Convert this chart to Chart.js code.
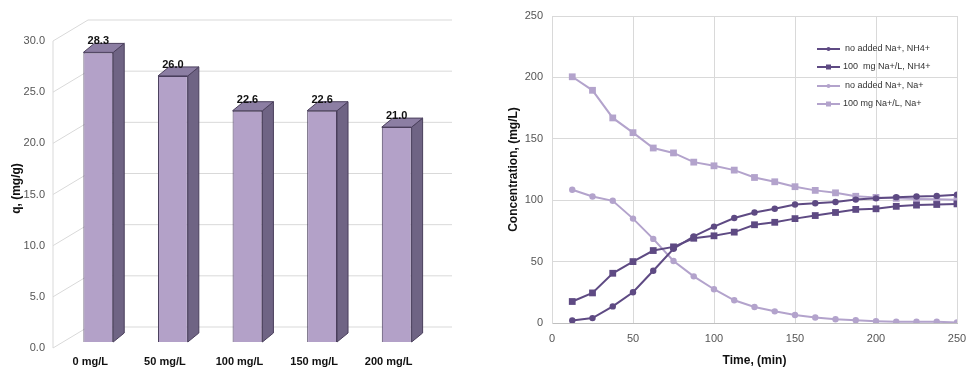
<!DOCTYPE html>
<html>
<head>
<meta charset="utf-8">
<script src="https://cdn.jsdelivr.net/npm/chart.js@4.4.1/dist/chart.umd.min.js"></script>
<style>
  html, body { margin: 0; padding: 0; background: #fff; }
  .wrap { position: relative; width: 966px; height: 369px; overflow: hidden; }
  #barchart { position: absolute; left: 0; top: 0; }
  #linechart { position: absolute; left: 490px; top: 0; }
</style>
</head>
<body>
<div class="wrap">
  <canvas id="barchart" width="480" height="369"></canvas>
  <canvas id="linechart" width="476" height="369"></canvas>
</div>
<script>
// left chart data
const doseLabels = ['0 mg/L', '50 mg/L', '100 mg/L', '150 mg/L', '200 mg/L'];
const qValues = [28.3, 26.0, 22.6, 22.6, 21.0];

// right chart data
const timeMin = [12.5, 25, 37.5, 50, 62.5, 75, 87.5, 100, 112.5, 125, 137.5, 150, 162.5, 175, 187.5, 200, 212.5, 225, 237.5, 250];
const nh4NoNa = [2, 4, 13.5, 25, 42.5, 60.5, 70.5, 78.5, 85.5, 90, 93, 96.5, 97.5, 98.5, 100.5, 101.5, 102.5, 103, 103.5, 104.5];
const nh4WithNa = [17.5, 24.5, 40.5, 50, 59, 62, 69, 71, 74, 80, 82, 85, 87.5, 90, 92.5, 93, 95, 96, 96.5, 97];
const naNoNa = [108.5, 103, 99.5, 85, 68.5, 50.5, 38, 27.5, 18.5, 13, 9.5, 6.5, 4.5, 3, 2.2, 1.5, 1, 1, 1, 0.5];
const naWithNa = [200.5, 189.5, 167, 155, 142.5, 138.5, 131, 128, 124.5, 118.5, 115, 111, 108, 106, 103.2, 102.3, 101.5, 101, 100.7, 100.3];
const seriesNames = ['no added Na+, NH4+', '100  mg Na+/L, NH4+', 'no added Na+, Na+', '100 mg Na+/L, Na+'];

const darkPurple = '#5e4a83';
const lightPurple = '#b3a3cc';
const fontFam = '"Liberation Sans", Arial, sans-serif';

// back wall + side wall grid for the 3d look
const wallPlugin = {
  id: 'wall',
  beforeDatasetsDraw(chart) {
    const ctx = chart.ctx;
    const ys = chart.scales.y;
    const L = chart.chartArea.left, R = chart.chartArea.right;
    ctx.save();
    ctx.strokeStyle = '#d9d9d9';
    ctx.lineWidth = 1;
    ys.ticks.forEach(t => {
      const yp = ys.getPixelForValue(t.value);
      ctx.beginPath();
      ctx.moveTo(L - 8, yp + 6);
      ctx.lineTo(L + 27, yp - 15);
      ctx.lineTo(R + 18, yp - 15);
      ctx.stroke();
    });
    ctx.beginPath();
    ctx.moveTo(L - 8, ys.getPixelForValue(0) + 6);
    ctx.lineTo(L - 8, ys.getPixelForValue(30) + 6);
    ctx.stroke();
    ctx.restore();
  }
};

// side and top faces, value labels
const boxPlugin = {
  id: 'box',
  afterDatasetsDraw(chart) {
    const ctx = chart.ctx;
    const meta = chart.getDatasetMeta(0);
    const dx = 11, dy = 9;
    ctx.save();
    ctx.lineWidth = 1;
    ctx.strokeStyle = '#4a3f5c';
    meta.data.forEach((bar, i) => {
      const x0 = bar.x - bar.width / 2, x1 = bar.x + bar.width / 2;
      const top = bar.y, base = bar.base;
      ctx.fillStyle = '#6f6484';
      ctx.beginPath();
      ctx.moveTo(x1, top);
      ctx.lineTo(x1 + dx, top - dy);
      ctx.lineTo(x1 + dx, base - dy);
      ctx.lineTo(x1, base);
      ctx.closePath();
      ctx.fill();
      ctx.stroke();
      ctx.fillStyle = '#8c7ea3';
      ctx.beginPath();
      ctx.moveTo(x0, top);
      ctx.lineTo(x0 + dx, top - dy);
      ctx.lineTo(x1 + dx, top - dy);
      ctx.lineTo(x1, top);
      ctx.closePath();
      ctx.fill();
      ctx.stroke();
      ctx.fillStyle = '#111';
      ctx.font = 'bold 11px ' + fontFam;
      ctx.textAlign = 'center';
      ctx.textBaseline = 'alphabetic';
      ctx.fillText(qValues[i].toFixed(1), bar.x, top - 8);
    });
    ctx.restore();
  }
};

new Chart(document.getElementById('barchart'), {
  type: 'bar',
  data: {
    labels: doseLabels,
    datasets: [{
      data: qValues,
      backgroundColor: '#b3a1c8',
      borderColor: '#4a3f5c',
      borderWidth: 1,
      barPercentage: 0.4,
      categoryPercentage: 1
    }]
  },
  options: {
    responsive: false,
    animation: false,
    layout: { padding: { top: 35, right: 46, left: 0, bottom: 0 } },
    plugins: { legend: { display: false }, tooltip: { enabled: false } },
    scales: {
      x: {
        grid: { display: false, drawTicks: false },
        border: { display: false },
        ticks: { color: '#111', font: { family: fontFam, size: 11, weight: 'bold' }, padding: 13, labelOffset: -8, maxRotation: 0 },
        afterFit(s) { s.height = 27; }
      },
      y: {
        min: 0, max: 30,
        grid: { display: false, drawTicks: false },
        border: { display: false },
        ticks: { stepSize: 5, color: '#555', font: { family: fontFam, size: 11 }, padding: 16, labelOffset: 6,
          callback: v => Number(v).toFixed(1) },
        title: { display: true, text: 'q, (mg/g)', color: '#111', font: { family: fontFam, size: 12, weight: 'bold' }, padding: { top: 9, bottom: 0 } },
        afterFit(s) { s.width = 61; }
      }
    }
  },
  plugins: [wallPlugin, boxPlugin]
});

// legend drawn inside the plot, top right
const legendPlugin = {
  id: 'inlegend',
  afterDraw(chart) {
    const ctx = chart.ctx;
    const rows = [49, 67, 86, 104];
    const textX = [355, 353, 355, 353];
    ctx.save();
    chart.data.datasets.forEach((ds, i) => {
      const y = rows[i];
      ctx.strokeStyle = ds.borderColor;
      ctx.fillStyle = ds.borderColor;
      ctx.lineWidth = 2;
      ctx.beginPath();
      ctx.moveTo(327, y);
      ctx.lineTo(350, y);
      ctx.stroke();
      if (ds.pointStyle === 'rect') {
        ctx.fillRect(336, y - 2.5, 5, 5);
      } else {
        ctx.beginPath();
        ctx.arc(338.5, y, 2, 0, Math.PI * 2);
        ctx.fill();
      }
      ctx.fillStyle = '#333';
      ctx.font = '9px ' + fontFam;
      ctx.textAlign = 'left';
      ctx.textBaseline = 'middle';
      ctx.fillText(ds.label, textX[i], y);
    });
    ctx.restore();
  }
};

function makeSeries(label, values, color, style) {
  return {
    label: label,
    data: timeMin.map((t, i) => ({ x: t, y: values[i] })),
    borderColor: color,
    backgroundColor: color,
    borderWidth: 2,
    pointStyle: style,
    pointRadius: style === 'rect' ? 4.8 : 3.2,
    pointBorderWidth: 0,
    tension: 0
  };
}

new Chart(document.getElementById('linechart'), {
  type: 'line',
  data: {
    datasets: [
      makeSeries(seriesNames[0], nh4NoNa, darkPurple, 'circle'),
      makeSeries(seriesNames[1], nh4WithNa, darkPurple, 'rect'),
      makeSeries(seriesNames[2], naNoNa, lightPurple, 'circle'),
      makeSeries(seriesNames[3], naWithNa, lightPurple, 'rect')
    ]
  },
  options: {
    responsive: false,
    animation: false,
    layout: { padding: { top: 16, right: 9, left: 0, bottom: 0 } },
    plugins: { legend: { display: false }, tooltip: { enabled: false } },
    scales: {
      x: {
        type: 'linear', min: 0, max: 250,
        grid: { color: '#d9d9d9', drawTicks: false },
        border: { color: '#bfbfbf' },
        ticks: { stepSize: 50, color: '#555', font: { family: fontFam, size: 11 }, padding: 9, maxRotation: 0 },
        title: { display: true, text: 'Time, (min)', color: '#111', font: { family: fontFam, size: 12, weight: 'bold' }, padding: { top: 0, bottom: 1 } },
        afterFit(s) { s.height = 46; s.paddingLeft = 0; s.paddingRight = 0; }
      },
      y: {
        min: 0, max: 250,
        grid: { color: '#d9d9d9', drawTicks: false },
        border: { color: '#d9d9d9' },
        ticks: { stepSize: 50, color: '#555', font: { family: fontFam, size: 11 }, padding: 9 },
        title: { display: true, text: 'Concentration, (mg/L)', color: '#111', font: { family: fontFam, size: 12, weight: 'bold' }, padding: { top: 16, bottom: 0 } },
        afterFit(s) { s.width = 62; s.paddingTop = 0; s.paddingBottom = 0; }
      }
    }
  },
  plugins: [legendPlugin]
});
</script>
</body>
</html>
